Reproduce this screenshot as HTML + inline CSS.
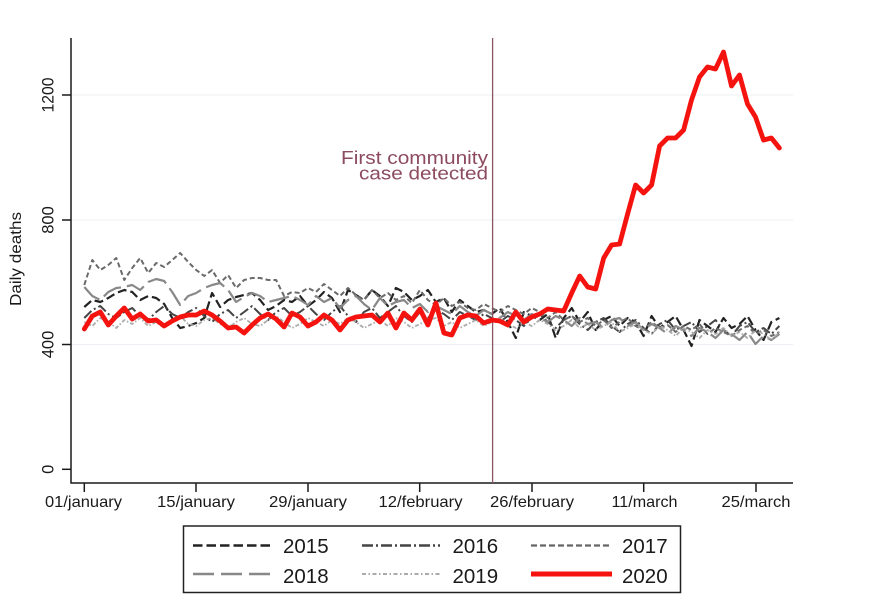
<!DOCTYPE html>
<html><head><meta charset="utf-8"><style>
html,body{margin:0;padding:0;background:#fff;}
svg{display:block;font-family:"Liberation Sans",Arial,sans-serif;}
</style></head><body>
<svg width="870" height="616" viewBox="0 0 870 616" xmlns="http://www.w3.org/2000/svg">
<rect width="870" height="616" fill="#fff"/>
<!-- grid -->
<g stroke="#eceff3" stroke-width="1">
<line x1="72" y1="95" x2="793" y2="95"/>
<line x1="72" y1="220" x2="793" y2="220"/>
<line x1="72" y1="344.5" x2="793" y2="344.5"/>
</g>
<!-- axes -->
<g stroke="#1a1a1a" stroke-width="1.5" fill="none">
<line x1="71" y1="38" x2="71" y2="483"/>
<line x1="70.3" y1="483" x2="793" y2="483"/>
<line x1="62" y1="95" x2="71" y2="95"/>
<line x1="62" y1="220" x2="71" y2="220"/>
<line x1="62" y1="344.5" x2="71" y2="344.5"/>
<line x1="62" y1="469.3" x2="71" y2="469.3"/>
<line x1="84.3" y1="483" x2="84.3" y2="492"/>
<line x1="196" y1="483" x2="196" y2="492"/>
<line x1="308" y1="483" x2="308" y2="492"/>
<line x1="419.7" y1="483" x2="419.7" y2="492"/>
<line x1="532" y1="483" x2="532" y2="492"/>
<line x1="643.7" y1="483" x2="643.7" y2="492"/>
<line x1="756" y1="483" x2="756" y2="492"/>
</g>
<!-- y labels -->
<g font-size="16.5" fill="#1a1a1a" text-anchor="middle">
<text transform="translate(53.5,95) rotate(-90)" textLength="35" lengthAdjust="spacingAndGlyphs">1200</text>
<text transform="translate(53.5,220) rotate(-90)">800</text>
<text transform="translate(53.5,344.5) rotate(-90)">400</text>
<text transform="translate(53.5,469.3) rotate(-90)">0</text>
<text transform="translate(21,259) rotate(-90)" font-size="15.5" textLength="94" lengthAdjust="spacingAndGlyphs">Daily deaths</text>
</g>
<!-- x labels -->
<g font-size="16" fill="#1a1a1a" text-anchor="middle">
<text x="83.5" y="507" textLength="77" lengthAdjust="spacingAndGlyphs">01/january</text>
<text x="196" y="507" textLength="78" lengthAdjust="spacingAndGlyphs">15/january</text>
<text x="308" y="507" textLength="78" lengthAdjust="spacingAndGlyphs">29/january</text>
<text x="420.5" y="507" textLength="84" lengthAdjust="spacingAndGlyphs">12/february</text>
<text x="532" y="507" textLength="84" lengthAdjust="spacingAndGlyphs">26/february</text>
<text x="644.5" y="507" textLength="66" lengthAdjust="spacingAndGlyphs">11/march</text>
<text x="756" y="507" textLength="69" lengthAdjust="spacingAndGlyphs">25/march</text>
</g>
<!-- series -->
<g fill="none" stroke-linejoin="round">
<polyline stroke="#222" stroke-width="2.2" stroke-dasharray="9,4" points="84.3,307 92.3,300 100.3,302 108.3,298 116.3,293 124.3,290 132.2,292 140.2,300 148.2,296 156.2,298 164.2,304 172.2,318 180.2,328 188.2,326 196.2,323 204.2,318 212.1,293 220.1,307 228.1,300 236.1,297 244.1,295 252.1,293 260.1,300 268.1,310 276.1,306 284.1,300 292.0,302 300.0,296 308.0,306 316.0,300 324.0,292 332.0,298 340.0,312 348.0,290 356.0,295 364.0,300 371.9,290 379.9,296 387.9,306 395.9,288 403.9,292 411.9,300 419.9,296 427.9,290 435.9,302 443.9,298 451.8,312 459.8,300 467.8,306 475.8,312 483.8,310 491.8,314 499.8,308 507.8,322 515.8,338 523.8,312 531.7,316 539.7,320 547.7,314 555.7,338 563.7,318 571.7,308 579.7,322 587.7,312 595.7,330 603.7,320 611.6,316 619.6,326 627.6,318 635.6,322 643.6,336 651.6,316 659.6,328 667.6,322 675.6,316 683.6,330 691.5,346 699.5,320 707.5,326 715.5,332 723.5,318 731.5,328 739.5,324 747.5,316 755.5,330 763.5,340 771.4,322 779.4,318"/>
<polyline stroke="#444" stroke-width="2" stroke-dasharray="10,3,2,3" points="84.3,318 92.3,310 100.3,306 108.3,314 116.3,318 124.3,312 132.2,308 140.2,316 148.2,320 156.2,312 164.2,306 172.2,314 180.2,318 188.2,312 196.2,308 204.2,316 212.1,322 220.1,314 228.1,310 236.1,318 244.1,312 252.1,306 260.1,314 268.1,320 276.1,312 284.1,308 292.0,316 300.0,312 308.0,306 316.0,314 324.0,320 332.0,312 340.0,306 348.0,316 356.0,322 364.0,312 371.9,308 379.9,318 387.9,312 395.9,306 403.9,316 411.9,322 419.9,312 427.9,318 435.9,310 443.9,314 451.8,320 459.8,312 467.8,316 475.8,320 483.8,314 491.8,318 499.8,322 507.8,316 515.8,320 523.8,326 531.7,318 539.7,314 547.7,322 555.7,328 563.7,320 571.7,316 579.7,324 587.7,330 595.7,322 603.7,318 611.6,326 619.6,332 627.6,324 635.6,320 643.6,328 651.6,334 659.6,324 667.6,320 675.6,330 683.6,326 691.5,322 699.5,332 707.5,326 715.5,320 723.5,330 731.5,336 739.5,326 747.5,322 755.5,332 763.5,328 771.4,334 779.4,326"/>
<polyline stroke="#6a6a6a" stroke-width="2" stroke-dasharray="5,3" points="84.3,285 92.3,260 100.3,270 108.3,265 116.3,258 124.3,280 132.2,268 140.2,258 148.2,273 156.2,263 164.2,267 172.2,260 180.2,253 188.2,262 196.2,270 204.2,276 212.1,270 220.1,283 228.1,275 236.1,288 244.1,280 252.1,278 260.1,278 268.1,280 276.1,280 284.1,296 292.0,292 300.0,293 308.0,288 316.0,292 324.0,284 332.0,290 340.0,296 348.0,288 356.0,295 364.0,300 371.9,290 379.9,298 387.9,293 395.9,300 403.9,296 411.9,303 419.9,290 427.9,300 435.9,305 443.9,298 451.8,306 459.8,302 467.8,308 475.8,310 483.8,304 491.8,308 499.8,312 507.8,306 515.8,310 523.8,314 531.7,308 539.7,312 547.7,318 555.7,312 563.7,320 571.7,316 579.7,322 587.7,318 595.7,326 603.7,320 611.6,328 619.6,322 627.6,318 635.6,326 643.6,330 651.6,322 659.6,328 667.6,325 675.6,332 683.6,326 691.5,330 699.5,324 707.5,334 715.5,328 723.5,332 731.5,336 739.5,330 747.5,326 755.5,334 763.5,330 771.4,336 779.4,332"/>
<polyline stroke="#888" stroke-width="2.2" stroke-dasharray="20,6" points="84.3,287 92.3,296 100.3,300 108.3,292 116.3,288 124.3,287 132.2,285 140.2,290 148.2,282 156.2,279 164.2,281 172.2,292 180.2,305 188.2,296 196.2,293 204.2,288 212.1,285 220.1,283 228.1,290 236.1,302 244.1,297 252.1,293 260.1,296 268.1,302 276.1,300 284.1,298 292.0,296 300.0,300 308.0,305 316.0,296 324.0,302 332.0,298 340.0,308 348.0,300 356.0,296 364.0,304 371.9,310 379.9,298 387.9,306 395.9,302 403.9,300 411.9,308 419.9,304 427.9,312 435.9,306 443.9,310 451.8,314 459.8,306 467.8,312 475.8,316 483.8,310 491.8,314 499.8,318 507.8,312 515.8,316 523.8,320 531.7,314 539.7,318 547.7,322 555.7,316 563.7,320 571.7,326 579.7,318 587.7,324 595.7,322 603.7,328 611.6,320 619.6,318 627.6,326 635.6,322 643.6,330 651.6,324 659.6,328 667.6,334 675.6,326 683.6,330 691.5,336 699.5,328 707.5,332 715.5,338 723.5,330 731.5,334 739.5,340 747.5,332 755.5,344 763.5,336 771.4,340 779.4,334"/>
<polyline stroke="#aaa" stroke-width="1.8" stroke-dasharray="4,2,1.5,2" points="84.3,322 92.3,326 100.3,318 108.3,322 116.3,328 124.3,320 132.2,324 140.2,318 148.2,326 156.2,322 164.2,328 172.2,320 180.2,316 188.2,324 196.2,326 204.2,320 212.1,318 220.1,324 228.1,328 236.1,322 244.1,318 252.1,324 260.1,326 268.1,320 276.1,316 284.1,322 292.0,328 300.0,324 308.0,318 316.0,322 324.0,326 332.0,320 340.0,324 348.0,318 356.0,322 364.0,328 371.9,324 379.9,320 387.9,326 395.9,318 403.9,322 411.9,328 419.9,324 427.9,320 435.9,318 443.9,326 451.8,322 459.8,328 467.8,324 475.8,320 483.8,326 491.8,322 499.8,318 507.8,324 515.8,328 523.8,322 531.7,326 539.7,320 547.7,324 555.7,330 563.7,326 571.7,320 579.7,328 587.7,324 595.7,330 603.7,326 611.6,322 619.6,332 627.6,328 635.6,324 643.6,330 651.6,334 659.6,326 667.6,330 675.6,336 683.6,328 691.5,332 699.5,338 707.5,330 715.5,334 723.5,328 731.5,336 739.5,332 747.5,338 755.5,330 763.5,334 771.4,340 779.4,332"/>
</g>
<!-- vertical event line -->
<line x1="492.6" y1="38" x2="492.6" y2="483" stroke="#8c5562" stroke-width="1.3"/>
<!-- 2020 -->
<polyline fill="none" stroke="#f5130f" stroke-width="4.8" stroke-linejoin="round" stroke-linecap="round" points="84.3,329 92.3,316 100.3,312 108.3,325 116.3,316 124.3,308 132.2,319 140.2,314 148.2,321 156.2,320 164.2,326 172.2,321 180.2,317 188.2,315 196.2,315 204.2,311 212.1,315 220.1,321 228.1,328 236.1,327 244.1,333 252.1,325 260.1,318 268.1,314 276.1,319 284.1,327 292.0,313 300.0,317 308.0,326 316.0,322 324.0,315 332.0,320 340.0,330 348.0,320 356.0,317 364.0,316 371.9,315 379.9,322 387.9,313 395.9,328 403.9,313 411.9,320 419.9,309 427.9,325 435.9,303 443.9,333 451.8,335 459.8,318 467.8,315 475.8,316 483.8,323 491.8,320 499.8,321 507.8,325 515.8,312 523.8,322 531.7,317 539.7,314 547.7,309 555.7,310 563.7,311 571.7,293 579.7,276 587.7,287 595.7,289 603.7,258 611.6,245 619.6,244 627.6,214 635.6,185 643.6,193 651.6,185 659.6,146 667.6,138 675.6,138 683.6,130 691.5,100 699.5,77 707.5,67 715.5,69 723.5,52 731.5,86 739.5,75 747.5,104 755.5,117 763.5,140 771.4,138 779.4,148"/>
<!-- annotation -->
<g fill="#8c4b5f" font-size="18" text-anchor="end">
<text x="488" y="164" textLength="147" lengthAdjust="spacingAndGlyphs">First community</text>
<text x="488" y="179.5" textLength="129" lengthAdjust="spacingAndGlyphs">case detected</text>
</g>
<!-- legend -->
<rect x="183.5" y="526" width="497" height="66.5" fill="#fff" stroke="#222" stroke-width="1.5"/>
<g fill="none">
<line x1="193" y1="545.5" x2="272" y2="545.5" stroke="#222" stroke-width="2.6" stroke-dasharray="9.5,4"/>
<line x1="362" y1="545.5" x2="440" y2="545.5" stroke="#444" stroke-width="2.4" stroke-dasharray="11,3,2,3"/>
<line x1="531" y1="545.5" x2="612" y2="545.5" stroke="#666" stroke-width="2.2" stroke-dasharray="6,3"/>
<line x1="193" y1="574" x2="272" y2="574" stroke="#888" stroke-width="2.6" stroke-dasharray="21,7"/>
<line x1="362" y1="574" x2="440" y2="574" stroke="#aaa" stroke-width="2" stroke-dasharray="4,2.5,1.5,2.5"/>
<line x1="531" y1="574" x2="612" y2="574" stroke="#f5130f" stroke-width="5"/>
</g>
<g font-size="20.5" fill="#1a1a1a">
<text x="283" y="553">2015</text>
<text x="452.5" y="553">2016</text>
<text x="622" y="553">2017</text>
<text x="283" y="583">2018</text>
<text x="452.5" y="583">2019</text>
<text x="622" y="583">2020</text>
</g>
</svg>
</body></html>
